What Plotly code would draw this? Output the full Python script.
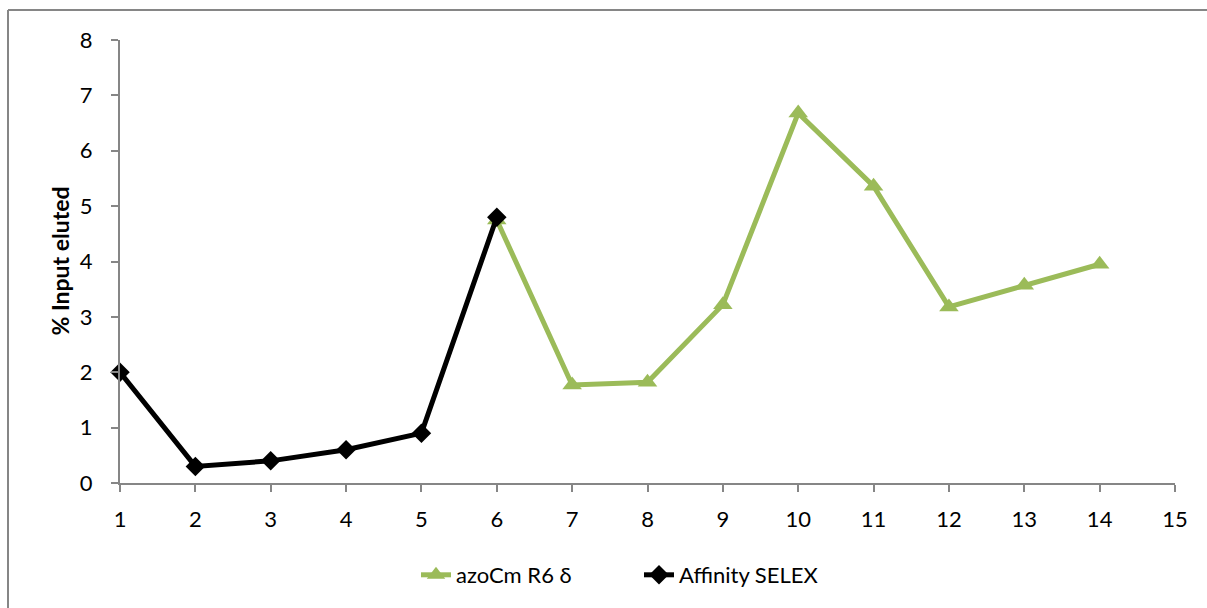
import plotly.graph_objects as go

# Selection rounds
rounds_azo = [6, 7, 8, 9, 10, 11, 12, 13, 14]
azo_values = [4.75, 1.77, 1.82, 3.22, 6.68, 5.36, 3.18, 3.57, 3.95]

rounds_aff = [1, 2, 3, 4, 5, 6]
aff_values = [2.0, 0.3, 0.4, 0.6, 0.9, 4.8]

x_ticks = list(range(1, 16))
y_ticks = list(range(0, 9))

FONT = "Lato, Carlito, Calibri, sans-serif"
AXIS_GREY = "#868686"

fig = go.Figure()

fig.add_trace(go.Scatter(
    x=rounds_azo, y=azo_values, name="azoCm R6 δ",
    mode="lines+markers",
    line=dict(color="#9BBB59", width=5),
    marker=dict(symbol="triangle-up", size=17, color="#9BBB59"),
    cliponaxis=False,
))

fig.add_trace(go.Scatter(
    x=rounds_aff, y=aff_values, name="Affinity SELEX",
    mode="lines+markers",
    line=dict(color="#000000", width=5),
    marker=dict(symbol="diamond", size=15, color="#000000"),
    cliponaxis=False,
))

# Plot area geometry in pixels
W, H = 1207, 608
L, R, T, B = 120, 32, 40, 125
pw, ph = W - L - R, H - T - B

def px_to_paper_x(px):
    return (px - L) / pw

def px_to_paper_y(py):
    return (H - B - py) / ph

# Chart frame (top and left edges)
frame_x0 = px_to_paper_x(8)
frame_y0 = px_to_paper_y(10)
fig.add_shape(type="line", xref="paper", yref="paper",
              x0=frame_x0, y0=frame_y0, x1=px_to_paper_x(1210), y1=frame_y0,
              line=dict(color=AXIS_GREY, width=2))
fig.add_shape(type="line", xref="paper", yref="paper",
              x0=frame_x0, y0=frame_y0, x1=frame_x0, y1=px_to_paper_y(612),
              line=dict(color=AXIS_GREY, width=2))

# Y-axis title
fig.add_annotation(
    text="<b>% Input eluted</b>", textangle=-90,
    xref="paper", yref="paper",
    x=px_to_paper_x(59), y=0.5, xanchor="center", yanchor="middle",
    showarrow=False, font=dict(family=FONT, size=23, color="#000000"),
)

fig.update_layout(
    width=W, height=H,
    margin=dict(l=L, r=R, t=T, b=B),
    paper_bgcolor="white", plot_bgcolor="white",
    font=dict(family=FONT, size=22, color="#000000"),
    showlegend=True,
    legend=dict(
        orientation="h", xanchor="left", yanchor="middle",
        x=px_to_paper_x(416), y=px_to_paper_y(575),
        font=dict(family=FONT, size=22, color="#000000"),
        entrywidth=178, entrywidthmode="pixels",
        tracegroupgap=0,
    ),
    xaxis=dict(
        range=[1, 15], tickmode="array", tickvals=x_ticks,
        showgrid=False, zeroline=False,
        showline=True, linecolor=AXIS_GREY, linewidth=2,
        ticks="outside", ticklen=7, tickwidth=2, tickcolor=AXIS_GREY,
        tickfont=dict(family=FONT, size=22),
        ticklabelstandoff=9,
    ),
    yaxis=dict(
        range=[0, 8], tickmode="array", tickvals=y_ticks,
        showgrid=False, zeroline=False,
        showline=True, linecolor=AXIS_GREY, linewidth=2,
        ticks="outside", ticklen=7, tickwidth=2, tickcolor=AXIS_GREY,
        tickfont=dict(family=FONT, size=22),
        ticklabelstandoff=14,
    ),
)

fig.write_html("out.html")
